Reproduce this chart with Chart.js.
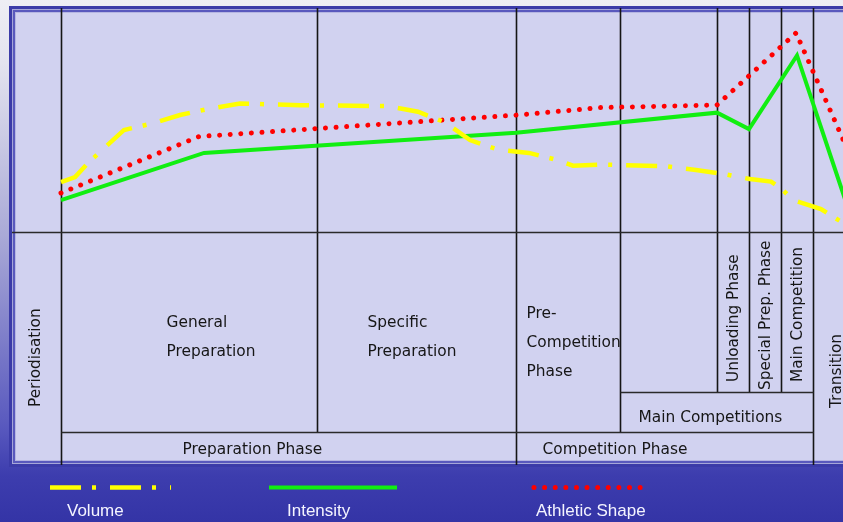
<!DOCTYPE html>
<html>
<head>
<meta charset="utf-8">
<script src="https://cdn.jsdelivr.net/npm/chart.js@4.4.1/dist/chart.umd.min.js"></script>
<style>
  html, body { margin: 0; padding: 0; }
  body {
    width: 843px; height: 522px; overflow: hidden;
    background: linear-gradient(180deg, #eeeef4 0%, #e3e3ef 12%, #aaaad7 45%, #5858be 82%, #3d3dae 91%, #3434a6 100%);
  }
  #wrap { position: relative; width: 843px; height: 522px; }
</style>
</head>
<body>
<div id="wrap"><canvas id="c"></canvas></div>
<script>
// Season plan: x = training week (0 = start of general preparation), y = relative level (0-100)
const volumeWeek  = [0, 0.88, 1.69, 3.94, 5.56, 7.44, 9.19, 11.19, 14.94, 20.44, 22.31, 24.0, 25.56, 27.31, 29.25, 31.0, 32.0, 33.69, 37.88, 39.69, 41.56, 43.06, 44.38, 45.06, 45.75, 47.5, 48.31, 49.31];
const volumeLevel = [22.8, 25.1, 31.5, 46.6, 49.3, 53.4, 56.2, 58.7, 57.9, 57.5, 54.9, 50.1, 42.0, 37.6, 36.1, 32.9, 30.3, 30.8, 30.0, 28.3, 26.3, 24.2, 23.0, 19.6, 14.6, 10.5, 6.7, 2.3];

const intensityWeek  = [0, 8.94, 28.44, 41, 43, 46, 49.5];
const intensityLevel = [14.6, 36.1, 45.3, 54.5, 47.0, 80.6, 4.1];

const shapeWeek  = [0, 8.63, 28.5, 33.7, 41, 45.94, 49.94];
const shapeLevel = [17.8, 43.6, 53.4, 56.8, 58.0, 90.9, 24.7];

const seriesNames = ['Volume', 'Intensity', 'Athletic Shape'];

// Week at which each block of the season begins (last entry = start of transition)
const phaseEdges = [0, 16, 28.45, 34.95, 41, 43, 45, 47];

const periodLabel  = 'Periodisation';
const mesoLabels   = [['General', 'Preparation'], ['Specific', 'Preparation'], ['Pre-', 'Competition', 'Phase']];
const blockLabels  = ['Main Competitions'];
const microLabels  = ['Unloading Phase', 'Special Prep. Phase', 'Main Competition'];
const phaseLabels  = ['Preparation Phase', 'Competition Phase', 'Transition'];

const toPoints = (xs, ys) => xs.map((x, i) => ({ x, y: ys[i] }));

const FONT = '"DejaVu Sans", "Noto Sans", sans-serif';

const periodTable = {
  id: 'periodTable',
  beforeDraw(chart) {
    const { ctx, chartArea: a } = chart;
    const W = chart.width;
    const bottom = a.bottom + 228;
    ctx.save();
    // framed panel
    const rings = [
      [a.left - 7, a.top - 7, bottom + 7, '#3b3ba8'],
      [a.left - 4, a.top - 4, bottom + 4, '#a6a6d8'],
      [a.left - 3, a.top - 3, bottom + 3, '#5959bd'],
      [a.left - 1, a.top - 1, bottom + 1, '#b6b6e2'],
      [a.left, a.top, bottom, '#d1d2f0']
    ];
    rings.forEach(([l, t, b, c]) => { ctx.fillStyle = c; ctx.fillRect(l, t, W + 20 - l, b - t); });
    ctx.restore();
  },
  beforeDatasetsDraw(chart) {
    const { ctx, chartArea: a, scales: { x } } = chart;
    const W = chart.width;
    const px = w => Math.round(x.getPixelForValue(w)) + 0.5;
    const topY = a.top - 5;
    const rowMicro = a.bottom + 160;
    const rowPhase = a.bottom + 200;
    const lineEnd = a.bottom + 233;
    ctx.save();
    ctx.strokeStyle = '#151515';
    ctx.lineWidth = 1.6;
    const vline = (w, y2) => { ctx.beginPath(); ctx.moveTo(px(w), topY); ctx.lineTo(px(w), y2); ctx.stroke(); };
    const hline = (x1, x2, y) => { ctx.beginPath(); ctx.moveTo(x1, y); ctx.lineTo(x2, y); ctx.stroke(); };
    const e = phaseEdges;
    vline(e[0], lineEnd);
    vline(e[1], rowPhase);
    vline(e[2], lineEnd);
    vline(e[3], rowPhase);
    vline(e[4], rowMicro);
    vline(e[5], rowMicro);
    vline(e[6], rowMicro);
    vline(e[7], lineEnd);
    ctx.strokeStyle = '#2a2a2a';
    hline(a.left - 4, W, a.bottom + 0.5);
    hline(px(e[3]), px(e[7]), rowMicro + 0.5);
    hline(px(e[0]), px(e[7]), rowPhase + 0.5);

    // cell texts
    ctx.fillStyle = '#161616';
    ctx.textBaseline = 'alphabetic';
    ctx.textAlign = 'left';
    ctx.font = '15.4px ' + FONT;
    const lineGap = 29;
    const mesoX = [px(e[0]) + 105, px(e[1]) + 50, px(e[2]) + 10];
    const mesoY = [a.bottom + 95, a.bottom + 95, a.bottom + 86];
    mesoLabels.forEach((lines, i) => {
      lines.forEach((t, j) => ctx.fillText(t, mesoX[i], mesoY[i] + j * lineGap));
    });
    ctx.fillText(blockLabels[0], px(e[3]) + 18, a.bottom + 190);
    ctx.fillText(phaseLabels[0], px(e[0]) + 121, a.bottom + 222);
    ctx.fillText(phaseLabels[1], px(e[2]) + 26, a.bottom + 222);

    // rotated texts, reading bottom to top
    const vtext = (t, cx, y0) => {
      ctx.save();
      ctx.translate(cx, y0);
      ctx.rotate(-Math.PI / 2);
      ctx.textBaseline = 'middle';
      ctx.fillText(t, 0, 0);
      ctx.restore();
    };
    ctx.font = '15.3px ' + FONT;
    vtext(periodLabel, (a.left + px(e[0])) / 2 - 3, a.bottom + 175);
    const microStart = [a.bottom + 150, a.bottom + 158, a.bottom + 150];
    microLabels.forEach((t, i) => vtext(t, (px(e[4 + i]) + px(e[5 + i])) / 2 + 1, microStart[i]));
    vtext(phaseLabels[2], px(e[7]) + 24, a.bottom + 176);
    ctx.restore();
  },
  afterDraw(chart) {
    const { ctx } = chart;
    const sampleX = [50, 269, 534];
    const sampleW = [121, 128, 108];
    const labelX = [67, 287, 536];
    const sampleY = 487.5;
    const labelY = 516;
    ctx.save();
    chart.data.datasets.forEach((ds, i) => {
      ctx.beginPath();
      ctx.strokeStyle = ds.borderColor;
      ctx.lineWidth = ds.borderWidth;
      ctx.lineCap = ds.borderCapStyle || 'butt';
      ctx.setLineDash(ds.borderDash || []);
      ctx.moveTo(sampleX[i], sampleY);
      ctx.lineTo(sampleX[i] + sampleW[i], sampleY);
      ctx.stroke();
    });
    ctx.setLineDash([]);
    ctx.fillStyle = '#f4f4ff';
    ctx.font = '17px "Liberation Sans", Arial, sans-serif';
    ctx.textAlign = 'left';
    ctx.textBaseline = 'alphabetic';
    chart.data.datasets.forEach((ds, i) => ctx.fillText(ds.label, labelX[i], labelY));
    ctx.restore();
  }
};

new Chart(document.getElementById('c'), {
  type: 'line',
  data: {
    datasets: [
      {
        label: seriesNames[0],
        data: toPoints(volumeWeek, volumeLevel),
        borderColor: '#ffff00', borderWidth: 4.5,
        borderDash: [31, 11, 4, 14], borderCapStyle: 'butt',
        pointRadius: 0, tension: 0, fill: false
      },
      {
        label: seriesNames[1],
        data: toPoints(intensityWeek, intensityLevel),
        borderColor: '#11ee11', borderWidth: 4,
        borderCapStyle: 'butt', borderJoinStyle: 'miter',
        pointRadius: 0, tension: 0, fill: false
      },
      {
        label: seriesNames[2],
        data: toPoints(shapeWeek, shapeLevel),
        borderColor: '#ff0000', borderWidth: 5,
        borderDash: [0.01, 10.6], borderCapStyle: 'round',
        pointRadius: 0, tension: 0, fill: false
      }
    ]
  },
  options: {
    responsive: true,
    maintainAspectRatio: false,
    animation: false,
    events: [],
    layout: { padding: { left: 16, top: 13, right: 0, bottom: 290 } },
    scales: {
      x: { type: 'linear', min: -2.8125, max: 48.875, display: false },
      y: { type: 'linear', min: 0, max: 100, display: false }
    },
    plugins: { legend: { display: false }, tooltip: { enabled: false } }
  },
  plugins: [periodTable]
});
</script>
</body>
</html>
